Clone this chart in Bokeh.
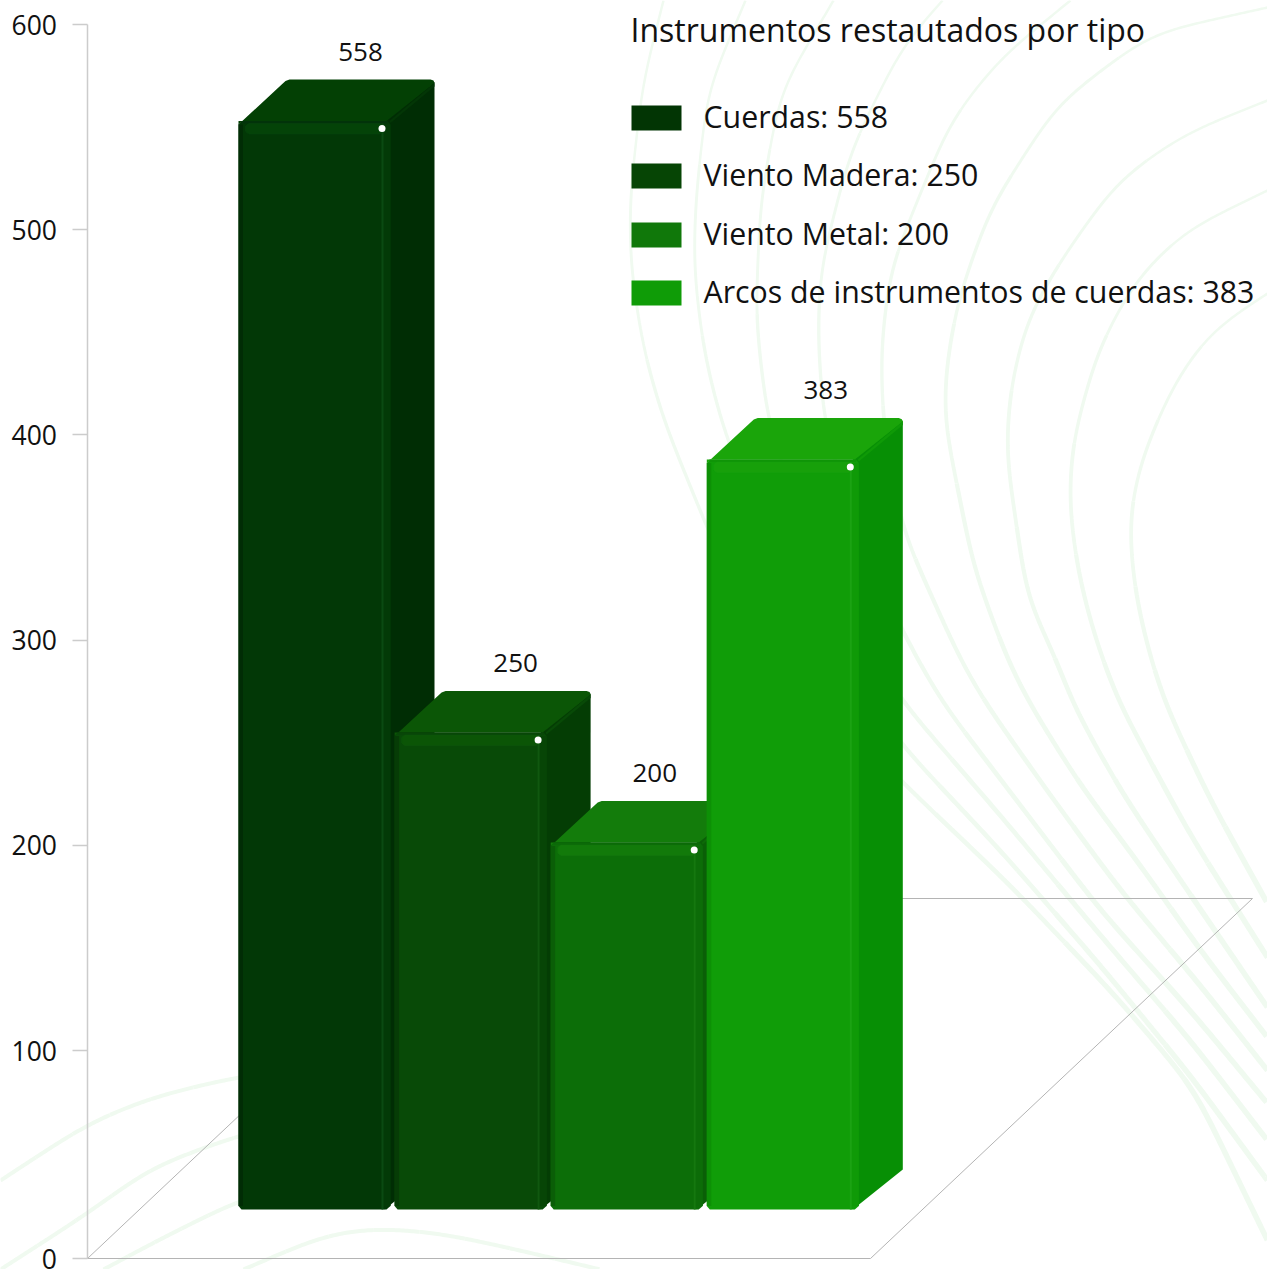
from bokeh.plotting import figure
from bokeh.models import Range1d, LinearAxis, FixedTicker
from bokeh.core.properties import value
from bokeh.embed import file_html
from bokeh.resources import INLINE
import numpy as np

categories = ["Cuerdas", "Viento Madera", "Viento Metal", "Arcos de instrumentos de cuerdas"]
values = [558, 250, 200, 383]
y_ticks = [0, 100, 200, 300, 400, 500, 600]
title_text = "Instrumentos restautados por tipo"

legend_colors = ["#023504", "#064505", "#10780a", "#0f9c07"]
front_colors = ["#023806", "#084a07", "#0c6e08", "#109d08"]
left_colors = ["#012c05", "#063c06", "#0a5e07", "#0d9006"]
top_colors = ["#034004", "#0b5606", "#137c0b", "#1aa50a"]
side_colors = ["#002d04", "#043d04", "#0a5f07", "#078f05"]
bevel_colors = ["#033a07", "#074506", "#0c6c08", "#0f9a07"]
strip_colors = ["#0a4a12", "#10580f", "#15780f", "#1ba313"]
band_colors = ["#044308", "#0b5506", "#127a0a", "#17a00a"]
edge_colors = ["#02330a", "#084608", "#0b6a08", "#0f9507"]
diag_colors = ["#033606", "#084a07", "#0d6a08", "#0f9a07"]
depth_scale = [1.9507, 1.908, 1.835, 1.958]
label_dx = [122, 121, 104, 119]

FONT = "Open Sans"
TXT = "#111111"
W, H = 1267, 1269
# the axis spacing: 600 at 24 and 100 at 1050
PXT = 24.0
K = (1050.0 - PXT) / 500.0
PX0 = PXT + 600 * K
def Y(py):
    return (PX0 - py) / K
ZERO_TICK = Y(1258)   # the bottom tick sits a little under the regular spacing

p = figure(width=W, height=H, output_backend="svg", toolbar_location=None,
           x_range=Range1d(0, W), y_range=Range1d(Y(H), Y(0)),
           x_axis_type=None, y_axis_type=None, min_border=0,
           outline_line_color=None, background_fill_color="white", border_fill_color="white")
p.grid.visible = False

# decorative background curves (page pixels), smoothed along their length
def smooth(pts, sigma=28.0, step=2.0):
    a = np.array(pts, dtype=float)
    ext = 3.5 * sigma
    u0 = (a[0] - a[1]) / np.hypot(*(a[0] - a[1]))
    u1 = (a[-1] - a[-2]) / np.hypot(*(a[-1] - a[-2]))
    a = np.vstack([a[0] + u0 * ext, a, a[-1] + u1 * ext])
    s = np.r_[0, np.cumsum(np.hypot(*np.diff(a, axis=0).T))]
    t = np.arange(0, s[-1], step)
    x, y = np.interp(t, s, a[:, 0]), np.interp(t, s, a[:, 1])
    g = np.arange(-int(ext / step), int(ext / step) + 1) * step
    g = np.exp(-0.5 * (g / sigma) ** 2)
    g /= g.sum()
    return np.convolve(x, g, mode="valid"), np.convolve(y, g, mode="valid")

curves = [
    [(663, 0), (642, 83), (629, 200), (630, 267), (643, 350), (663, 420), (720, 560), (790, 665), (903, 783), (1010, 885), (1113, 993), (1193, 1087), (1267, 1240)],
    [(745, 0), (707, 90), (695, 200), (693, 267), (703, 350), (720, 420), (765, 540), (830, 645), (903, 747), (1000, 850), (1100, 965), (1190, 1075), (1267, 1180)],
    [(833, 0), (780, 90), (760, 200), (755, 317), (767, 420), (800, 520), (850, 620), (903, 703), (1000, 815), (1100, 935), (1190, 1040), (1267, 1140)],
    [(942, 0), (903, 43), (850, 150), (820, 267), (817, 333), (823, 420), (855, 530), (903, 633), (940, 700), (1020, 805), (1100, 910), (1190, 1010), (1267, 1103)],
    [(1070, 0), (1000, 57), (950, 120), (917, 200), (890, 267), (880, 350), (883, 430), (903, 533), (960, 660), (983, 700), (1050, 795), (1120, 890), (1200, 985), (1267, 1070)],
    [(1267, 7), (1150, 33), (1057, 103), (990, 207), (957, 300), (945, 370), (943, 417), (973, 567), (1007, 660), (1027, 700), (1080, 785), (1140, 865), (1200, 950), (1267, 1037)],
    [(1267, 100), (1184, 133), (1117, 180), (1060, 260), (1027, 317), (1010, 385), (1005, 450), (1027, 600), (1057, 660), (1070, 700), (1120, 790), (1170, 865), (1267, 1007)],
    [(1267, 190), (1184, 230), (1134, 280), (1097, 350), (1072, 440), (1068, 500), (1077, 570), (1093, 633), (1117, 700), (1190, 835), (1267, 957)],
    [(1267, 293), (1210, 330), (1173, 383), (1140, 460), (1128, 517), (1133, 583), (1145, 640), (1163, 700), (1210, 800), (1267, 903)],
    [(0, 1180), (87, 1123), (150, 1097), (233, 1077), (320, 1065)],
    [(0, 1269), (87, 1213), (150, 1167), (237, 1135), (320, 1115)],
    [(103, 1269), (157, 1240), (237, 1200), (320, 1175)],
    [(243, 1269), (327, 1233), (377, 1227), (443, 1233), (520, 1250), (600, 1269)],
]
for j, c in enumerate(curves):
    sx, sy = smooth(c)
    right_family = j < 9
    parts = 8
    for k in range(parts):
        a, b = k * len(sx) // parts, (k + 1) * len(sx) // parts + 1
        lw = 2.5 + 3.0 * k / (parts - 1) if right_family else 4
        p.line(sx[a:b], Y(sy[a:b]), line_color="#f0faf0", line_width=lw)

# floor
GRID = "#b4b4b4"
fl_x = [87, 870, 1252, 469, 87]
fl_y = [Y(1258), Y(1258), Y(898), Y(898), Y(1258)]
p.line(fl_x, fl_y, line_color=GRID, line_width=1)

# y axis
tick_pos = [ZERO_TICK if t == 0 else t for t in y_ticks]
ax = LinearAxis(fixed_location=86.5, ticker=FixedTicker(ticks=tick_pos), bounds=(ZERO_TICK, 600))
ax.major_label_overrides = {ZERO_TICK: "0"}
ax.major_tick_out = 15
ax.major_tick_in = 0
ax.minor_tick_out = 0
ax.minor_tick_in = 0
ax.axis_line_color = "#cccccc"
ax.axis_line_width = 1.5
ax.major_tick_line_color = "#cccccc"
ax.major_tick_line_width = 1.5
ax.major_label_standoff = 15
ax.major_label_text_font = FONT
ax.major_label_text_font_size = "26.5px"
ax.major_label_text_color = TXT
p.add_layout(ax, "left")

# bars
X0 = 238.0
STEP = 156.1
BW = 152.0
DX, DY = 44.0, 41.5
BASE = Y(1209)
for i, v in enumerate(values):
    x = X0 + STEP * i
    r = x + BW
    top = BASE + v * depth_scale[i] / K
    d = DY / K
    c = 3.5 / K
    # side
    p.patch([r - 6, r + DX, r + DX, r - 6], [BASE, BASE + d - 1.5 / K, top + d - 2.5 / K, top],
            fill_color=side_colors[i], line_color=None)
    # top
    p.patch([x, x + 44, x + 47, x + 51, r + DX - 4, r + DX - 1, r + DX, r - 4, x],
            [top - c, top + d - 1.2 * c, top + d - 0.4 * c, top + d, top + d, top + d - 0.3 * c, top + d - c, top, top],
            fill_color=top_colors[i], line_color=None)
    # top-right diagonal
    p.patch([r - 1, r + DX, r + DX, r], [top, top + d - c, top + d - 4 * c / 2, top - 2 / K],
            fill_color=diag_colors[i], line_color=None)
    # front
    p.patch([x, x + 3, r - 4, r, r, r - 3, x + 3, x],
            [BASE + c, BASE, BASE, BASE + c, top - c, top, top, top - c],
            fill_color=front_colors[i], line_color=None)
    p.quad(left=x, right=x + 4.5, bottom=BASE + c, top=top - c, fill_color=left_colors[i], line_color=None)
    p.quad(left=x + 3, right=r - 3, bottom=top - 2.5 / K, top=top, fill_color=edge_colors[i], line_color=None)
    p.quad(left=r - 8.5, right=r, bottom=BASE + c, top=top - c, fill_color=bevel_colors[i], line_color=None)
    p.quad(left=r - 9, right=r - 7, bottom=BASE, top=top - 2.5 / K, fill_color=strip_colors[i], line_color=None)
    # highlight band (rounded ends)
    by0, by1 = top - 13 / K, top - 2.5 / K
    cc = 2.5 / K
    p.patch([x + 10, r - 10, r - 8, r - 8, r - 10, x + 10, x + 7, x + 7],
            [by1, by1, by1 - cc, by0 + cc, by0, by0, by0 + cc, by1 - cc],
            fill_color=band_colors[i], line_color=strip_colors[i], line_alpha=0.45, line_width=0.7)
    # white dot
    p.scatter([r - 8.5], [top - 7.5 / K], size=7, fill_color="white", line_color=None)
    # value label
    p.text([x + label_dx[i]], [top + d + 28 / K], text=[str(v)], text_align="center",
           text_baseline="middle", text_font=value(FONT), text_font_size="26px", text_color=TXT)

# title + legend
p.text([630], [Y(29)], text=[title_text], text_align="left", text_baseline="middle",
       text_font=value(FONT), text_font_size="32px", text_color=TXT)
leg_y = [117.5, 175.5, 234.5, 292.5]
for c, v, col, ly in zip(categories, values, legend_colors, leg_y):
    p.quad(left=631, right=681, bottom=Y(ly + 12.5), top=Y(ly - 12.5), fill_color=col, line_color=None)
    p.text([703], [Y(ly - 1.5)], text=[f"{c}: {v}"], text_align="left", text_baseline="middle",
           text_font=value(FONT), text_font_size="30.3px", text_color=TXT)

html = file_html(p, INLINE)
open("out.html", "w").write(html)
